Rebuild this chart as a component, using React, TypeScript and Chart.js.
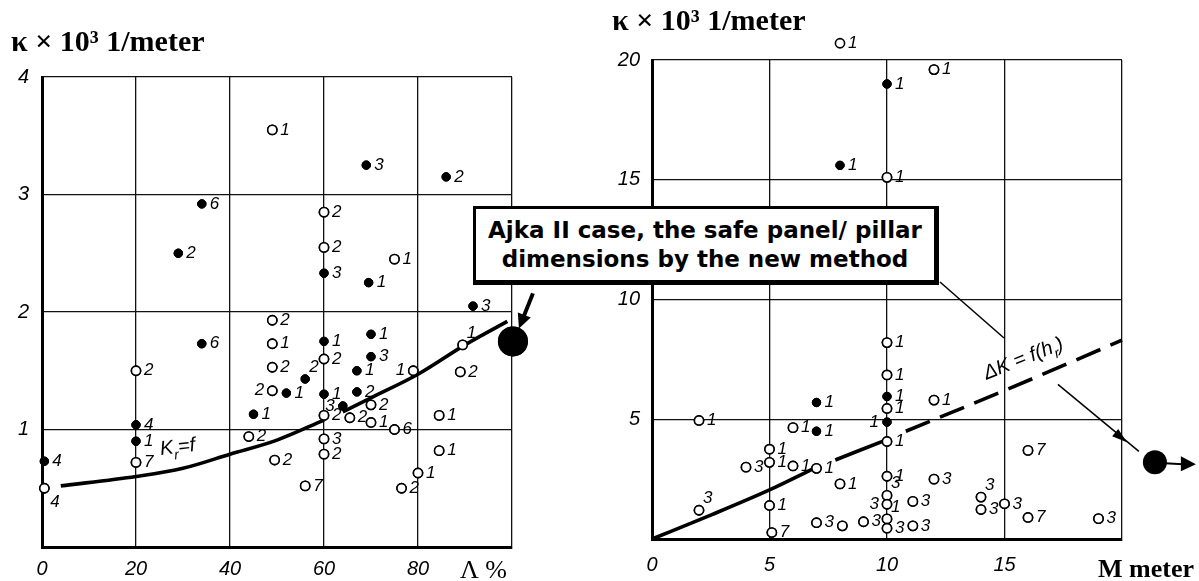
import React, { useEffect, useRef } from 'react';
import { Chart, registerables } from 'chart.js';
Chart.register(...registerables);

// ---------- Left chart: kappa vs Lambda % ----------
const leftXTicks = [0, 20, 40, 60, 80];
const leftYTicks = [1, 2, 3, 4];

const leftOpenX = [49, 60, 60, 75, 49, 49, 49, 49, 44, 49.5, 56, 20, 20, 0.5, 60, 60, 60, 60, 70, 65.5, 70, 75, 79, 89.5, 89, 84.5, 84.5, 80, 76.5];
const leftOpenY = [3.55, 2.85, 2.55, 2.45, 1.93, 1.73, 1.53, 1.33, 0.94, 0.74, 0.52, 1.5, 0.72, 0.5, 1.6, 1.12, 0.92, 0.79, 1.21, 1.1, 1.06, 1.0, 1.5, 1.72, 1.49, 1.12, 0.82, 0.63, 0.5];
const leftOpenLabels = ['1', '2', '2', '1', '2', '1', '2', '2', '2', '2', '7', '2', '7', '4', '2', '2', '3', '2', '2', '2', '1', '6', '1', '1', '2', '1', '1', '1', '2'];
const leftOpenSides = ['r', 'r', 'r', 'r', 'r', 'r', 'r', 'l', 'r', 'r', 'r', 'r', 'r', 'b', 'r', 'r', 'r', 'r', 'r', 'r', 'r', 'r', 'l', 'a', 'r', 'r', 'r', 'r', 'r'];

const leftFilledX = [69, 86, 34, 29, 60, 69.5, 91.7, 34, 52, 56, 45, 20, 20, 0.5, 60, 60, 70, 70, 67, 67, 64];
const leftFilledY = [3.25, 3.15, 2.92, 2.5, 2.33, 2.25, 2.05, 1.73, 1.31, 1.43, 1.13, 1.04, 0.9, 0.73, 1.75, 1.3, 1.81, 1.62, 1.5, 1.32, 1.2];
const leftFilledLabels = ['3', '2', '6', '2', '3', '1', '3', '6', '1', '2', '1', '4', '1', '4', '1', '1', '1', '3', '1', '2', '3'];
const leftFilledSides = ['r', 'r', 'r', 'r', 'r', 'r', 'r', 'r', 'r', 'a', 'r', 'r', 'r', 'r', 'r', 'r', 'r', 'r', 'r', 'r', 'l'];

const leftCurve1X = [4, 20, 30, 40, 50, 60];
const leftCurve1Y = [0.52, 0.6, 0.67, 0.79, 0.91, 1.08];
const leftCurve2X = [64, 70, 80, 90, 99];
const leftCurve2Y = [1.15, 1.27, 1.47, 1.72, 1.92];

const leftBigX = [100.2];
const leftBigY = [1.75];

// ---------- Right chart: kappa vs M meter ----------
const rightXTicks = [0, 5, 10, 15];
const rightYTicks = [5, 10, 15, 20];

const rightOpenX = [8, 12, 10, 2, 2, 4, 5, 5, 5, 5.1, 6, 6, 7, 8, 7, 8.1, 9, 10, 10, 10, 10, 10, 10, 10, 10, 10, 11.1, 11.1, 12, 12, 14, 14, 15, 16, 16, 19];
const rightOpenY = [20.7, 19.6, 15.1, 4.95, 1.2, 3.0, 3.75, 3.2, 1.4, 0.27, 4.65, 3.05, 2.95, 2.3, 0.68, 0.55, 0.72, 8.2, 6.85, 5.45, 4.07, 2.62, 1.82, 1.45, 0.84, 0.45, 1.57, 0.55, 5.8, 2.5, 1.75, 1.23, 1.47, 3.7, 0.9, 0.85];
const rightOpenLabels = ['1', '1', '1', '1', '3', '3', '1', '1', '1', '7', '1', '1', '1', '1', '3', '', '3', '1', '1', '1', '1', '1', '3', '3', '1', '3', '3', '3', '1', '3', '3', '3', '3', '7', '7', '3'];
const rightOpenSides = ['r', 'r', 'r', 'r', 'a', 'r', 'r', 'r', 'r', 'r', 'r', 'r', 'r', 'r', 'r', 'r', 'r', 'r', 'r', 'r', 'r', 'r', 'a', 'l', 'a', 'r', 'r', 'r', 'r', 'r', 'a', 'r', 'r', 'r', 'r', 'r'];

const rightFilledX = [10, 8, 7, 7, 10, 10];
const rightFilledY = [19.0, 15.6, 5.7, 4.5, 5.95, 4.88];
const rightFilledLabels = ['1', '1', '1', '1', '1', '1'];
const rightFilledSides = ['r', 'r', 'r', 'r', 'r', 'l'];

const rightCurve1X = [0, 2.5, 5, 6.9];
const rightCurve1Y = [0, 1.0, 2.05, 2.95];
const rightCurve2X = [7.8, 10];
const rightCurve2Y = [3.3, 4.15];
const rightCurve3X = [10.8, 15, 20];
const rightCurve3Y = [4.5, 6.2, 8.3];

const rightBigX = [21.4];
const rightBigY = [3.2];

// ---------- helpers ----------
const zip = (xs: number[], ys: number[]) => xs.map((x, i) => ({ x, y: ys[i] }));
const TICK_FONT = { family: '"Liberation Sans Narrow", "Liberation Sans", sans-serif', style: 'italic' as const, size: 20 };
const LABEL_FONT = 'italic 17px "Liberation Sans Narrow", "Liberation Sans", sans-serif';
const TITLE_FONT = 'bold 30px "Liberation Serif", serif';

// Points lying outside the plot frame are skipped by Chart.js; re-draw them at the
// positions that the library's scales computed for them.
const forceDrawPlugin = {
  id: 'forceDraw',
  afterDatasetsDraw(chart: any) {
    const ctx: CanvasRenderingContext2D = chart.ctx;
    ctx.save();
    chart.data.datasets.forEach((ds: any, i: number) => {
      if (!ds.forceDraw) return;
      const meta = chart.getDatasetMeta(i);
      meta.data.forEach((el: any) => {
        ctx.beginPath();
        ctx.arc(el.x, el.y, ds.pointRadius, 0, Math.PI * 2);
        ctx.fillStyle = ds.pointBackgroundColor;
        ctx.fill();
        if (ds.pointBorderWidth > 0) {
          ctx.lineWidth = ds.pointBorderWidth;
          ctx.strokeStyle = ds.pointBorderColor;
          ctx.stroke();
        }
      });
    });
    ctx.restore();
  },
};

const pointLabelPlugin = {
  id: 'pointLabels',
  afterDatasetsDraw(chart: any) {
    const ctx = chart.ctx;
    ctx.save();
    ctx.font = LABEL_FONT;
    ctx.fillStyle = '#000';
    ctx.textBaseline = 'middle';
    chart.data.datasets.forEach((ds: any, i: number) => {
      const labels: string[] | undefined = ds.pointLabels;
      if (!labels) return;
      const sides: string[] = ds.labelSides || [];
      const meta = chart.getDatasetMeta(i);
      meta.data.forEach((el: any, j: number) => {
        const t = labels[j];
        if (!t) return;
        const side = sides[j] || 'r';
        let x = el.x + 8;
        let y = el.y;
        let align = 'left';
        if (side === 'l') { x = el.x - 8; align = 'right'; }
        else if (side === 'a') { x = el.x + 4; y = el.y - 12; }
        else if (side === 'b') { x = el.x + 6; y = el.y + 14; }
        ctx.textAlign = align;
        ctx.fillText(t, x, y);
      });
    });
    ctx.restore();
  },
};

function arrowHead(ctx: CanvasRenderingContext2D, x1: number, y1: number, x2: number, y2: number, len: number, spread: number) {
  const a = Math.atan2(y2 - y1, x2 - x1);
  ctx.beginPath();
  ctx.moveTo(x2, y2);
  ctx.lineTo(x2 - len * Math.cos(a - spread), y2 - len * Math.sin(a - spread));
  ctx.lineTo(x2 - len * Math.cos(a + spread), y2 - len * Math.sin(a + spread));
  ctx.closePath();
  ctx.fill();
}

function subText(ctx: CanvasRenderingContext2D, parts: [string, boolean][], size: number, style: string, cx: number, cy: number) {
  let total = 0;
  parts.forEach(([t, sub]) => {
    ctx.font = `${style} ${sub ? Math.round(size * 0.7) : size}px "Liberation Sans", sans-serif`;
    total += ctx.measureText(t).width;
  });
  let x = cx - total / 2;
  ctx.textAlign = 'left';
  ctx.textBaseline = 'alphabetic';
  parts.forEach(([t, sub]) => {
    ctx.font = `${style} ${sub ? Math.round(size * 0.7) : size}px "Liberation Sans", sans-serif`;
    ctx.fillText(t, x, cy + (sub ? size * 0.3 : 0));
    x += ctx.measureText(t).width;
  });
}

const leftAnnot = {
  id: 'leftAnnot',
  afterDraw(chart: any) {
    const ctx: CanvasRenderingContext2D = chart.ctx;
    const xs = chart.scales.x;
    const ys = chart.scales.y;
    ctx.save();
    ctx.fillStyle = '#000';
    ctx.strokeStyle = '#000';
    ctx.font = TITLE_FONT;
    ctx.textAlign = 'left';
    ctx.textBaseline = 'alphabetic';
    ctx.fillText('κ × 10³ 1/meter', 11, 51);
    ctx.font = '26px "Liberation Serif", serif';
    ctx.fillText('Λ %', 460, 578);
    ctx.save();
    ctx.translate(xs.getPixelForValue(29), ys.getPixelForValue(0.8));
    ctx.rotate(-0.12);
    subText(ctx, [['K', false], ['r', true], ['=f', false]], 20, 'italic', 0, 0);
    ctx.restore();
    const dot = chart.getDatasetMeta(2).data[0];
    const tx = dot.x + 20, ty = dot.y - 48, hx = dot.x + 6, hy = dot.y - 13;
    ctx.lineWidth = 4;
    ctx.beginPath();
    ctx.moveTo(tx, ty);
    ctx.lineTo(hx + (tx - hx) * 0.35, hy + (ty - hy) * 0.35);
    ctx.stroke();
    arrowHead(ctx, tx, ty, hx, hy, 16, 0.45);
    ctx.restore();
  },
};

const rightAnnot = {
  id: 'rightAnnot',
  afterDraw(chart: any) {
    const ctx: CanvasRenderingContext2D = chart.ctx;
    const xs = chart.scales.x;
    const ys = chart.scales.y;
    ctx.save();
    ctx.fillStyle = '#000';
    ctx.strokeStyle = '#000';
    ctx.font = TITLE_FONT;
    ctx.textAlign = 'left';
    ctx.textBaseline = 'alphabetic';
    ctx.fillText('κ × 10³ 1/meter', 12, 30);
    ctx.font = 'bold 26px "Liberation Serif", serif';
    ctx.fillText('M meter', 498, 577);
    ctx.save();
    ctx.translate(xs.getPixelForValue(15.9), ys.getPixelForValue(7.3));
    ctx.rotate(-0.38);
    subText(ctx, [['ΔK = f(h', false], ['r', true], [')', false]], 20, 'italic', 0, 0);
    ctx.restore();
    ctx.lineWidth = 1.5;
    ctx.beginPath();
    ctx.moveTo(340, 282);
    ctx.lineTo(404, 338);
    ctx.stroke();
    const dot = chart.getDatasetMeta(2).data[0];
    ctx.beginPath();
    ctx.moveTo(dot.x - 97, dot.y - 78);
    ctx.lineTo(dot.x - 16, dot.y - 11);
    ctx.stroke();
    arrowHead(ctx, dot.x - 97, dot.y - 78, dot.x - 28, dot.y - 20, 16, 0.3);
    ctx.lineWidth = 2;
    ctx.beginPath();
    ctx.moveTo(dot.x + 10, dot.y + 1);
    ctx.lineTo(dot.x + 28, dot.y + 2);
    ctx.stroke();
    ctx.beginPath();
    ctx.moveTo(dot.x + 26, dot.y - 6);
    ctx.lineTo(dot.x + 41, dot.y + 2);
    ctx.lineTo(dot.x + 26, dot.y + 9);
    ctx.closePath();
    ctx.fill();
    ctx.restore();
  },
};

function openSet(xs: number[], ys: number[], labels: string[], sides: string[]) {
  return {
    data: zip(xs, ys), pointLabels: labels, labelSides: sides, forceDraw: true,
    pointRadius: 4.6, pointBackgroundColor: '#fff', pointBorderColor: '#000', pointBorderWidth: 1.6,
    showLine: false, clip: false,
  };
}
function filledSet(xs: number[], ys: number[], labels: string[], sides: string[]) {
  return {
    data: zip(xs, ys), pointLabels: labels, labelSides: sides, forceDraw: true,
    pointRadius: 4.2, pointBackgroundColor: '#000', pointBorderColor: '#000', pointBorderWidth: 1,
    showLine: false, clip: false,
  };
}
function bigSet(xs: number[], ys: number[], r: number) {
  return {
    data: zip(xs, ys), pointRadius: r, pointBackgroundColor: '#000', pointBorderColor: '#000',
    pointBorderWidth: 0, showLine: false, clip: false, forceDraw: true,
  };
}
function curveSet(xs: number[], ys: number[], dash: number[] = []) {
  return {
    data: zip(xs, ys), showLine: true, borderColor: '#000', borderWidth: 3.6, pointRadius: 0,
    cubicInterpolationMode: 'monotone', borderDash: dash, borderCapStyle: 'butt', clip: false,
  };
}

function axisOpts(min: number, max: number, step: number, show: number[], pad: number, size: (s: any) => void) {
  return {
    type: 'linear', min, max, afterFit: size,
    ticks: {
      stepSize: step, padding: pad, color: '#000', font: TICK_FONT, autoSkip: false, maxRotation: 0,
      callback: (v: any) => (show.includes(Number(v)) ? String(v) : ''),
    },
    grid: { color: '#111', lineWidth: 1.3, drawTicks: false },
    border: { color: '#000', width: 3 },
  };
}

export default function App() {
  const leftRef = useRef<HTMLCanvasElement>(null);
  const rightRef = useRef<HTMLCanvasElement>(null);

  useEffect(() => {
    const left = new Chart(leftRef.current as HTMLCanvasElement, {
      type: 'scatter',
      data: {
        datasets: [
          openSet(leftOpenX, leftOpenY, leftOpenLabels, leftOpenSides),
          filledSet(leftFilledX, leftFilledY, leftFilledLabels, leftFilledSides),
          bigSet(leftBigX, leftBigY, 15),
          curveSet(leftCurve1X, leftCurve1Y),
          curveSet(leftCurve2X, leftCurve2Y),
        ] as any,
      },
      options: {
        animation: false, responsive: false, maintainAspectRatio: false, events: [],
        layout: { padding: { left: 0, top: 77, right: 88, bottom: 0 } },
        plugins: { legend: { display: false }, tooltip: { enabled: false } },
        scales: {
          x: axisOpts(0, 100, 20, leftXTicks, 10, (s: any) => { s.height = 34; }),
          y: axisOpts(0, 4, 1, leftYTicks, 13, (s: any) => { s.width = 42; }),
        } as any,
      },
      plugins: [forceDrawPlugin, pointLabelPlugin, leftAnnot],
    });

    const right = new Chart(rightRef.current as HTMLCanvasElement, {
      type: 'scatter',
      data: {
        datasets: [
          openSet(rightOpenX, rightOpenY, rightOpenLabels, rightOpenSides),
          filledSet(rightFilledX, rightFilledY, rightFilledLabels, rightFilledSides),
          bigSet(rightBigX, rightBigY, 12),
          curveSet(rightCurve1X, rightCurve1Y),
          curveSet(rightCurve2X, rightCurve2Y),
          curveSet(rightCurve3X, rightCurve3Y, [26, 11]),
        ] as any,
      },
      options: {
        animation: false, responsive: false, maintainAspectRatio: false, events: [],
        layout: { padding: { left: 0, top: 60, right: 77, bottom: 0 } },
        plugins: { legend: { display: false }, tooltip: { enabled: false } },
        scales: {
          x: axisOpts(0, 20, 5, rightXTicks, 14, (s: any) => { s.height = 42; }),
          y: axisOpts(0, 20, 5, rightYTicks, 12, (s: any) => { s.width = 52; }),
        } as any,
      },
      plugins: [forceDrawPlugin, pointLabelPlugin, rightAnnot],
    });

    return () => {
      left.destroy();
      right.destroy();
    };
  }, []);

  return (
    <div style={{ position: 'absolute', left: 0, top: 0, width: 1199, height: 581, background: '#fff', overflow: 'hidden' }}>
      <canvas ref={leftRef} width={600} height={581} style={{ position: 'absolute', left: 0, top: 0, width: 600, height: 581 }} />
      <canvas ref={rightRef} width={599} height={581} style={{ position: 'absolute', left: 600, top: 0, width: 599, height: 581 }} />
      <div
        style={{
          position: 'absolute', left: 473, top: 206, width: 466, height: 79, boxSizing: 'border-box',
          border: '3px solid #000', borderRightWidth: 5, borderBottomWidth: 5, background: '#fff',
          fontFamily: '"DejaVu Sans", "Liberation Sans", sans-serif', fontWeight: 'bold', fontSize: 23,
          lineHeight: '29px', textAlign: 'center', paddingTop: 7, color: '#000', whiteSpace: 'nowrap',
        }}
      >
        Ajka II case, the safe panel/ pillar
        <br />
        dimensions by the new method
      </div>
    </div>
  );
}
